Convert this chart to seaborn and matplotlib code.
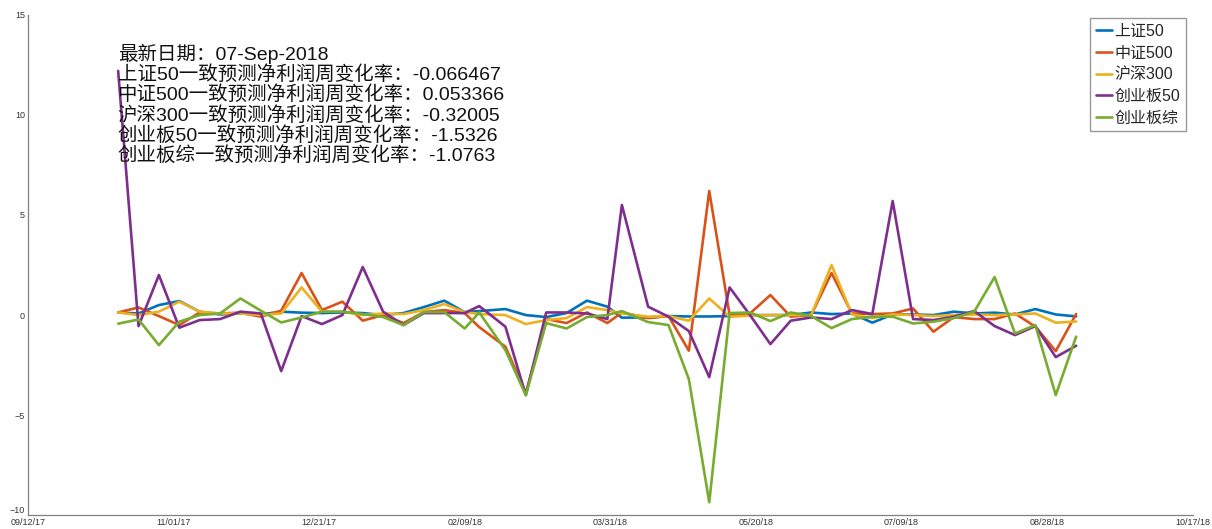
import pandas as pd
import numpy as np
import matplotlib
matplotlib.use("Agg")
import matplotlib.pyplot as plt
import matplotlib.dates as mdates
import seaborn as sns

# weekly dates (last trading day of each week)
fridays = pd.date_range("2017-10-13", periods=48, freq="7D")
holiday_shift = {"2018-02-16": "2018-02-14", "2018-04-06": "2018-04-04"}
dates = [pd.Timestamp(holiday_shift.get(d.strftime("%Y-%m-%d"), d)) for d in fridays]

series_names = ["上证50", "中证500", "沪深300", "创业板50", "创业板综"]

sz50 = [0.13, 0.08, 0.5, 0.7, 0.17, 0.03, 0.08, 0.03, 0.17, 0.12, 0.1, 0.13,
        0.1, 0.0, 0.1, 0.4, 0.72, 0.15, 0.2, 0.3, 0.0, -0.1, 0.1, 0.72,
        0.42, -0.13, -0.12, -0.05, -0.07, -0.07, -0.05, 0.0, 0.0, 0.0, 0.13, 0.05,
        0.08, -0.38, 0.03, 0.03, 0.0, 0.17, 0.08, 0.12, 0.03, 0.3, 0.03, -0.066467]
zz500 = [0.13, 0.38, -0.05, -0.5, 0.13, 0.08, 0.12, -0.08, 0.22, 2.1, 0.25, 0.67,
         -0.28, 0.0, -0.4, 0.15, 0.25, 0.1, -0.6, -1.58, -3.9, -0.2, -0.4, 0.13,
         -0.4, 0.13, -0.15, -0.05, -1.78, 6.2, 0.0, 0.08, 1.0, -0.08, 0.0, 2.1,
         0.08, 0.05, 0.08, 0.33, -0.83, -0.1, -0.2, -0.2, 0.08, -0.58, -1.8, 0.053366]
hs300 = [0.13, 0.0, 0.17, 0.67, 0.17, 0.08, 0.08, 0.0, 0.08, 1.38, 0.17, 0.17,
         0.0, 0.08, 0.05, 0.25, 0.55, 0.15, 0.05, 0.0, -0.45, -0.25, -0.15, 0.4,
         0.25, 0.08, -0.08, -0.05, -0.28, 0.83, -0.08, -0.03, 0.0, 0.0, 0.0, 2.5,
         0.03, -0.15, 0.03, 0.0, -0.05, 0.0, 0.03, 0.0, 0.03, 0.08, -0.38, -0.32005]
cyb50 = [12.2, -0.55, 2.0, -0.63, -0.25, -0.2, 0.17, 0.08, -2.8, -0.05, -0.45, 0.0,
         2.4, 0.17, -0.5, 0.1, 0.1, 0.1, 0.45, -0.58, -4.0, 0.13, 0.13, 0.08,
         -0.2, 5.5, 0.42, -0.08, -0.8, -3.1, 1.38, 0.0, -1.45, -0.28, -0.12, -0.2,
         0.25, 0.05, 5.7, -0.2, -0.25, -0.08, 0.2, -0.55, -1.0, -0.55, -2.1, -1.5326]
cybz = [-0.43, -0.22, -1.5, -0.33, 0.0, 0.08, 0.83, 0.22, -0.37, -0.12, 0.17, 0.17,
        0.05, -0.1, -0.5, 0.15, 0.15, -0.67, 0.13, -1.75, -4.0, -0.4, -0.67, -0.1,
        0.0, 0.2, -0.35, -0.5, -3.2, -9.35, 0.1, 0.13, -0.3, 0.13, -0.05, -0.65,
        -0.2, -0.08, -0.08, -0.42, -0.33, -0.15, 0.17, 1.9, -0.92, -0.5, -4.0, -1.0763]

latest_values = ["-0.066467", "0.053366", "-0.32005", "-1.5326", "-1.0763"]

df = pd.DataFrame({"date": dates, "上证50": sz50, "中证500": zz500, "沪深300": hs300,
                   "创业板50": cyb50, "创业板综": cybz})
df_long = df.melt(id_vars="date", var_name="指数", value_name="变化率")

colors = ["#0072BD", "#D95319", "#EDB120", "#7E2F8E", "#77AC30"]

sns.set_style("white")
plt.rcParams["font.family"] = ["Liberation Sans", "Noto Sans CJK SC", "DejaVu Sans"]

fig = plt.figure(figsize=(12.12, 5.29), dpi=100)
ax = fig.add_axes([0.023, 0.026, 0.961, 0.946])

sns.lineplot(data=df_long, x="date", y="变化率", hue="指数", hue_order=series_names,
             palette=colors, linewidth=1.9, ax=ax)

ax.set_xlim(pd.Timestamp("2017-09-12"), pd.Timestamp("2018-10-17"))
ax.set_ylim(-10, 15)
ax.set_xticks(pd.date_range("2017-09-12", "2018-10-17", freq="50D"))
ax.xaxis.set_major_formatter(mdates.DateFormatter("%m/%d/%y"))
ax.set_yticks([-10, -5, 0, 5, 10, 15])
ax.set_xlabel("")
ax.set_ylabel("")

for s in ["top", "right"]:
    ax.spines[s].set_visible(False)
for s in ["left", "bottom"]:
    ax.spines[s].set_color("#808080")
    ax.spines[s].set_linewidth(0.9)
ax.tick_params(axis="both", direction="in", length=7, width=0.8, color="#808080",
               labelsize=6.5, labelcolor="#333333", pad=2)
# lift the lowest y label above the date label, like the original
ax.get_yticklabels()[0].set_verticalalignment("bottom")

handles, labels = ax.get_legend_handles_labels()
ax.legend(handles, labels, loc="upper right", bbox_to_anchor=(0.9985, 1.003),
          fontsize=11.5, frameon=True, fancybox=False, edgecolor="#808080",
          handlelength=1.0, handletextpad=0.2, labelspacing=0.42, borderpad=0.35,
          borderaxespad=0.3)

info_lines = ["最新日期：07-Sep-2018"] + [
    f"{n}一致预测净利润周变化率：{v}" for n, v in zip(series_names, latest_values)]
for i, line in enumerate(info_lines):
    ax.text(0.077, 0.921 - i * 0.0405, line, transform=ax.transAxes,
            va="center", ha="left", fontsize=14, color="#111111")

plt.savefig("out.png", dpi=100)
